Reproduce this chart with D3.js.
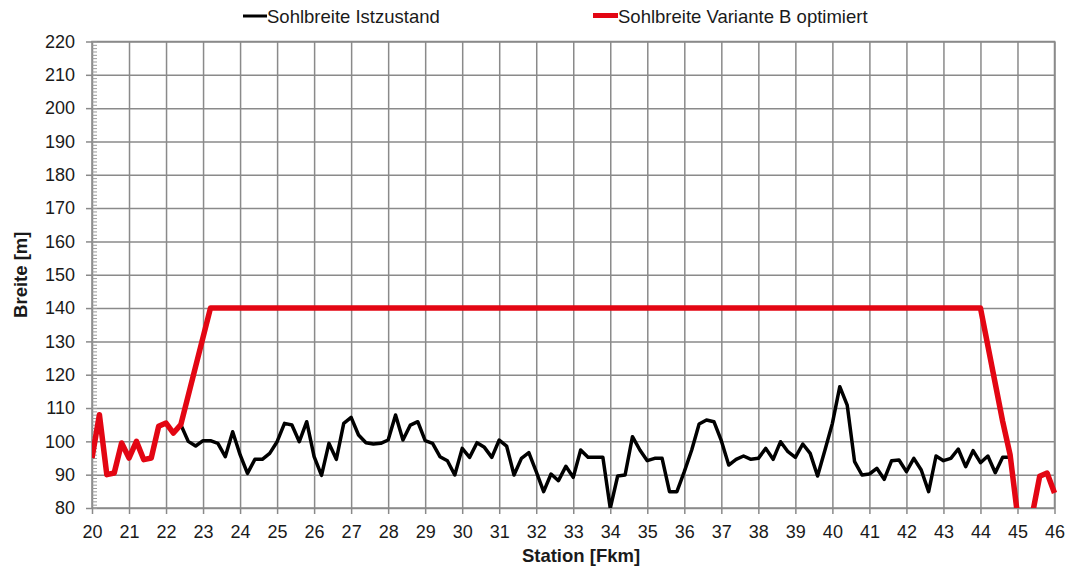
<!DOCTYPE html>
<html><head><meta charset="utf-8">
<script src="https://cdn.jsdelivr.net/npm/d3@7"></script>
<style>
body{margin:0;background:#fff}
svg{display:block}
text{font-family:"Liberation Sans",Arial,sans-serif;fill:#1a1a1a}
</style>
</head><body>
<svg id="chart" width="1069" height="566"></svg>
<script>
// ---- data ----
const seriesNames = ["Sohlbreite Istzustand", "Sohlbreite Variante B optimiert"];
const istStations = [20.0,20.2,20.4,20.6,20.8,21.0,21.2,21.4,21.6,21.8,22.0,22.2,22.4,22.6,22.8,
  23.0,23.2,23.4,23.6,23.8,24.0,24.2,24.4,24.6,24.8,25.0,25.2,25.4,25.6,25.8,
  26.0,26.2,26.4,26.6,26.8,27.0,27.2,27.4,27.6,27.8,28.0,28.2,28.4,28.6,28.8,
  29.0,29.2,29.4,29.6,29.8,30.0,30.2,30.4,30.6,30.8,31.0,31.2,31.4,31.6,31.8,
  32.0,32.2,32.4,32.6,32.8,33.0,33.2,33.4,33.6,33.8,34.0,34.2,34.4,34.6,34.8,
  35.0,35.2,35.4,35.6,35.8,36.0,36.2,36.4,36.6,36.8,37.0,37.2,37.4,37.6,37.8,
  38.0,38.2,38.4,38.6,38.8,39.0,39.2,39.4,39.6,39.8,40.0,40.2,40.4,40.6,40.8,
  41.0,41.2,41.4,41.6,41.8,42.0,42.2,42.4,42.6,42.8,43.0,43.2,43.4,43.6,43.8,
  44.0,44.2,44.4,44.6,44.8];
const istValues = [95,108,90,90.5,99.5,95,100,94.5,95,104.5,105.5,102.5,105,100,98.6,
  100.2,100.2,99.4,95.4,102.9,96,90.4,94.6,94.6,96.4,99.9,105.4,104.9,99.9,105.9,
  95.4,89.8,99.4,94.6,105.4,107.2,101.9,99.6,99.2,99.4,100.4,107.9,100.4,104.9,105.9,
  100.2,99.4,95.4,94.2,89.9,97.9,95.2,99.6,98.2,95.2,100.4,98.6,89.9,94.9,96.6,
  90.9,84.9,90.2,88.2,92.5,89.2,97.4,95.2,95.2,95.2,79.9,89.6,89.9,101.4,97.4,
  94.2,94.9,94.9,84.9,84.9,90.9,97.4,105.2,106.4,105.9,100.2,92.9,94.6,95.6,94.6,
  94.9,97.9,94.6,99.9,96.9,95.2,99.2,96.4,89.6,97.4,105.4,116.4,110.9,93.9,89.9,
  90.2,91.9,88.6,94.2,94.4,90.9,94.9,91.4,84.9,95.6,94.2,94.9,97.7,92.4,97.2,
  93.6,95.6,90.6,95.2,95.2];
const varStations = [20.0,20.2,20.4,20.6,20.8,21.0,21.2,21.4,21.6,21.8,22.0,22.2,22.4,
  23.2,44.0,44.6,44.8,45.0,45.2,45.4,45.6,45.8,46.0];
const varValues = [95,108,90,90.5,99.5,95,100,94.5,95,104.5,105.5,102.5,105,
  140,140,106,96,78,62,78,89.5,90.5,84.5];
const xTickValues = [20,21,22,23,24,25,26,27,28,29,30,31,32,33,34,35,36,37,38,39,40,41,42,43,44,45,46];
const yTickValues = [80,90,100,110,120,130,140,150,160,170,180,190,200,210,220];
const xTitle = "Station [Fkm]";
const yTitle = "Breite [m]";

// ---- layout ----
const L = 92, R = 1054.5, T = 41.5, B = 508;
const gridColor = "#8a8a8a";
const svg = d3.select("#chart");
const x = d3.scaleLinear().domain([20, 46]).range([L, R]);
const y = d3.scaleLinear().domain([80, 220]).range([B, T]);

// grid
const gx = svg.append("g").attr("transform", `translate(0,${B})`)
  .call(d3.axisBottom(x).tickValues(xTickValues).tickSize(-(B - T)).tickFormat(""));
gx.select(".domain").remove();
gx.selectAll("line").attr("stroke", gridColor).attr("stroke-width", 1.5);

const gy = svg.append("g").attr("transform", `translate(${L},0)`)
  .call(d3.axisLeft(y).tickValues(yTickValues).tickSize(-(R - L)).tickFormat(""));
gy.select(".domain").remove();
gy.selectAll("line").attr("stroke", gridColor).attr("stroke-width", 1.5);

// border
svg.append("rect").attr("x", L).attr("y", T).attr("width", R - L).attr("height", B - T)
  .attr("fill", "none").attr("stroke", gridColor).attr("stroke-width", 1.5);

// minor ticks on y (inside)
const gm = svg.append("g").attr("transform", `translate(${L},0)`)
  .call(d3.axisRight(y).ticks(140).tickSize(5).tickFormat(""));
gm.select(".domain").remove();
gm.selectAll("line").attr("stroke", "#9a9a9a").attr("stroke-width", 1);

// y axis labels + outer ticks
const ay = svg.append("g").attr("transform", `translate(${L},0)`)
  .call(d3.axisLeft(y).tickValues(yTickValues).tickSize(6).tickPadding(11));
ay.select(".domain").remove();
ay.selectAll("line").attr("stroke", gridColor).attr("stroke-width", 1.5);
ay.selectAll("text").attr("font-size", 18).attr("fill", "#1a1a1a")
  .style("font-family", '"Liberation Sans",Arial,sans-serif');

// x axis labels + outer ticks
const ax = svg.append("g").attr("transform", `translate(0,${B})`)
  .call(d3.axisBottom(x).tickValues(xTickValues).tickSize(6).tickPadding(4));
ax.select(".domain").remove();
ax.selectAll("line").attr("stroke", gridColor).attr("stroke-width", 1.5);
ax.selectAll("text").attr("font-size", 18).attr("fill", "#1a1a1a")
  .attr("y", 30).attr("dy", 0)
  .style("font-family", '"Liberation Sans",Arial,sans-serif');

// titles
svg.append("text").attr("x", 581).attr("y", 562).attr("text-anchor", "middle")
  .attr("font-size", 18.5).attr("font-weight", "bold").text(xTitle);
svg.append("text").attr("transform", `translate(27,${(T + B) / 2}) rotate(-90)`)
  .attr("text-anchor", "middle").attr("font-size", 18.5).attr("font-weight", "bold").text(yTitle);

// clip
svg.append("clipPath").attr("id", "plotclip").append("rect")
  .attr("x", L).attr("y", T - 5).attr("width", R - L + 3).attr("height", B - T + 5);

const line = d3.line().x(d => x(d[0])).y(d => y(d[1]));
const plot = svg.append("g").attr("clip-path", "url(#plotclip)");
plot.append("path").datum(istStations.map((s, i) => [s, istValues[i]]))
  .attr("d", line).attr("fill", "none").attr("stroke", "#000")
  .attr("stroke-width", 3.5).attr("stroke-linejoin", "round");
plot.append("path").datum(varStations.map((s, i) => [s, varValues[i]]))
  .attr("d", line).attr("fill", "none").attr("stroke", "#e30613")
  .attr("stroke-width", 5.5).attr("stroke-linejoin", "round");

// legend
const leg = svg.append("g");
leg.append("line").attr("x1", 243).attr("x2", 267).attr("y1", 16).attr("y2", 16)
  .attr("stroke", "#000").attr("stroke-width", 3);
leg.append("text").attr("x", 267).attr("y", 22.5).attr("font-size", 18.5).text(seriesNames[0]);
leg.append("line").attr("x1", 593).attr("x2", 618).attr("y1", 15.5).attr("y2", 15.5)
  .attr("stroke", "#e30613").attr("stroke-width", 5);
leg.append("text").attr("x", 618).attr("y", 22.5).attr("font-size", 18.5).text(seriesNames[1]);
</script>
</body></html>
